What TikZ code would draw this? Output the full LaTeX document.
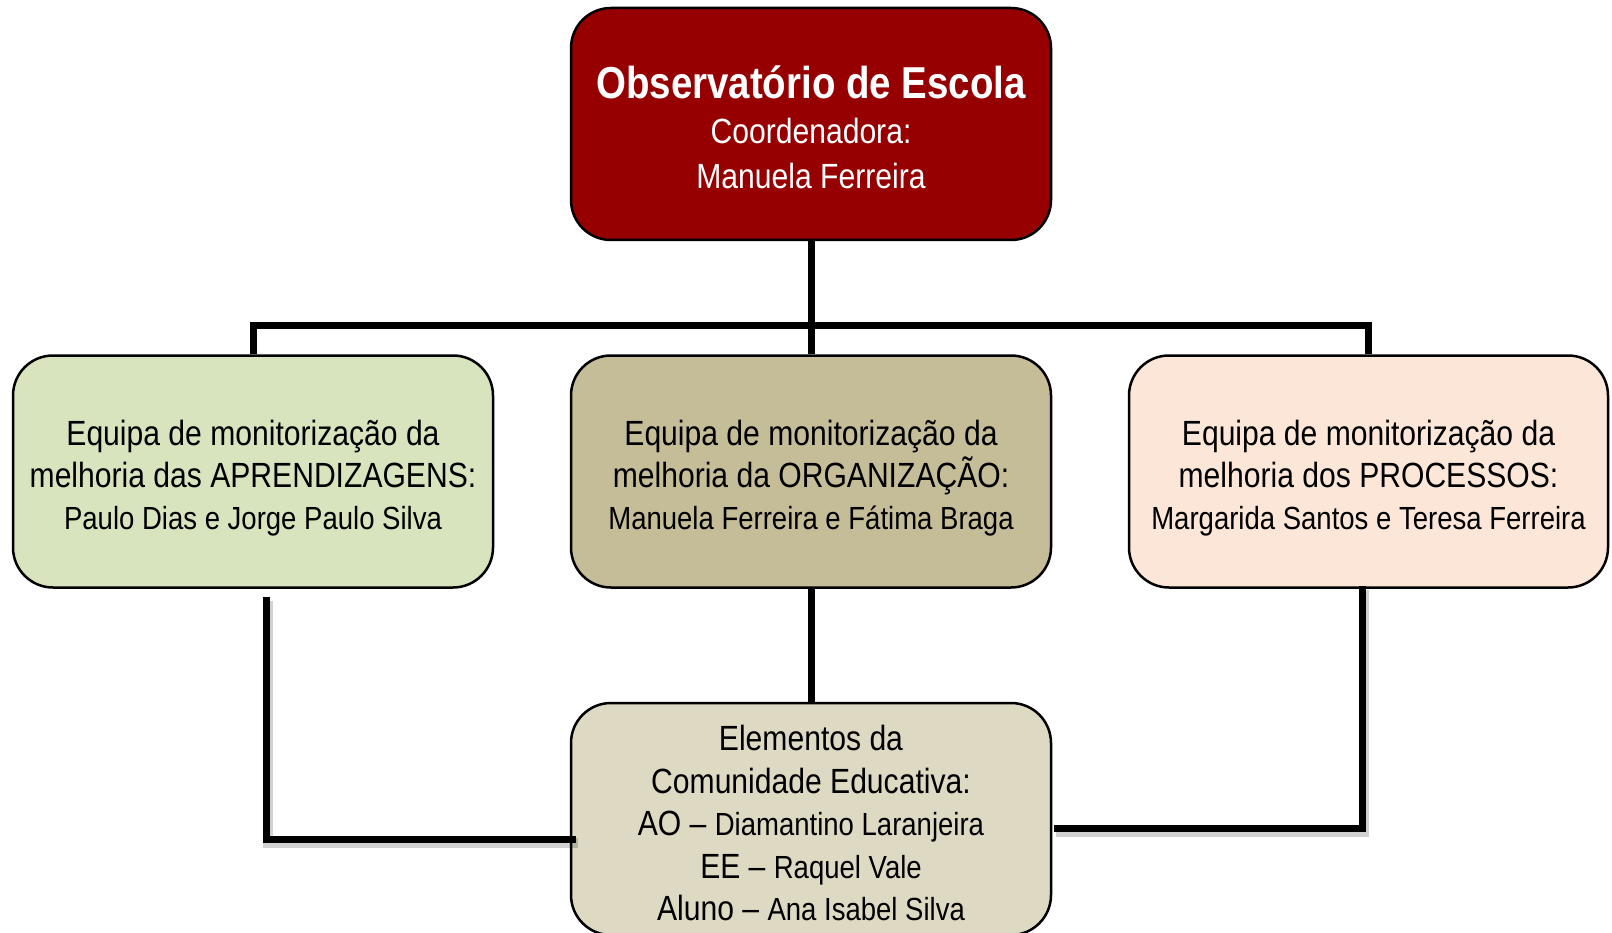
\documentclass[tikz,border=0pt]{standalone}
\usepackage{fontspec}
\setmainfont{Liberation Sans}[FakeStretch=0.86]
\definecolor{topred}{HTML}{960000}
\definecolor{boxgreen}{HTML}{D7E4BD}
\definecolor{boxkhaki}{HTML}{C4BD97}
\definecolor{boxpeach}{HTML}{FCE6D8}
\definecolor{boxsand}{HTML}{DDD9C3}
\newcommand{\nm}[1]{{\fontsize{32}{42}\selectfont #1}}
\tikzset{
  orgbox/.style={draw=black, line width=2.5pt, rounded corners=40pt, rectangle,
    minimum width=480pt, minimum height=232pt, inner sep=0pt, align=center,
    font=\fontsize{35}{42}\selectfont},
  conn/.style={draw=black, line width=7pt, line join=miter},
  shadowline/.style={draw=black, opacity=0.18, line width=10pt,
    transform canvas={xshift=2pt,yshift=-4pt}}
}
\begin{document}
\begin{tikzpicture}[x=1pt,y=-1pt]
\useasboundingbox (0,0) rectangle (1612,933);
\clip (0,0) rectangle (1612,933);
% nodes
\node[orgbox, fill=topred, text=white, font=\fontsize{35}{45}\selectfont] (top) at (811,124)
  {\rule{0pt}{40pt}{\fontsize{44.7}{45}\selectfont\bfseries Observatório de Escola}\\Coordenadora:\\Manuela Ferreira};
\node[orgbox, fill=boxgreen] (left) at (253,471.5)
  {\rule{0pt}{38pt}Equipa de monitorização da\\melhoria das APRENDIZAGENS:\\\nm{Paulo Dias e Jorge Paulo Silva}};
\node[orgbox, fill=boxkhaki] (mid) at (811,471.5)
  {\rule{0pt}{38pt}Equipa de monitorização da\\melhoria da ORGANIZAÇÃO:\\\nm{Manuela Ferreira e Fátima Braga}};
\node[orgbox, fill=boxpeach, minimum width=479pt] (right) at (1368.5,471.5)
  {\rule{0pt}{38pt}Equipa de monitorização da\\melhoria dos PROCESSOS:\\\nm{Margarida Santos e Teresa Ferreira}};
\node[orgbox, fill=boxsand, font=\fontsize{35}{42.5}\selectfont] (bot) at (811,819)
  {\rule{0pt}{34pt}Elementos da\\Comunidade Educativa:\\AO -- \nm{Diamantino Laranjeira}\\EE -- \nm{Raquel Vale}\\Aluno -- \nm{Ana Isabel Silva}};
% connectors
\coordinate (bus) at (811,326);
\coordinate (lA) at (266,597);
\coordinate (rA) at (1362,586);
\draw[conn] (top.south) -- (mid.north);
\draw[conn] (left.north) |- (bus) -| (right.north);
\draw[conn] (mid.south) -- (bot.north);
\draw[shadowline] (lA) |- ([xshift=6pt,yshift=-20pt]bot.west);
\draw[shadowline] (rA) |- ([xshift=2pt,yshift=-9pt]bot.east);
\draw[conn] (lA) |- ([xshift=6pt,yshift=-20pt]bot.west);
\draw[conn] (rA) |- ([xshift=2pt,yshift=-9pt]bot.east);
\end{tikzpicture}
\end{document}
